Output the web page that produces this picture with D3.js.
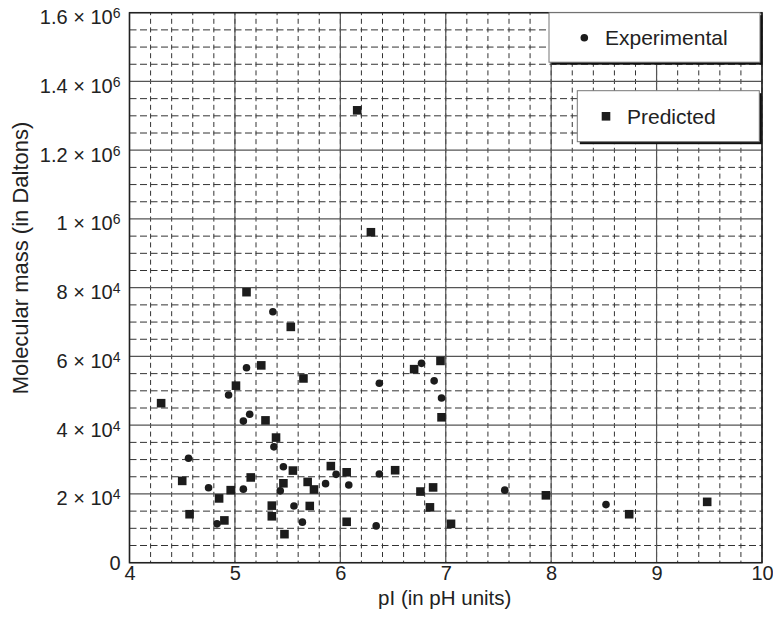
<!DOCTYPE html>
<html>
<head>
<meta charset="utf-8">
<script src="https://cdn.jsdelivr.net/npm/d3@7"></script>
<style>
    body { margin: 0; background: #fff; }
    svg { display: block; font-family: "Liberation Sans", Arial, sans-serif; }
</style>
</head>
<body>
<svg id="chart" width="773" height="625"></svg>
<script>
// Data (pI, molecular mass as labelled on the axis)
var expPI = [4.94, 5.08, 5.14, 4.56, 4.75, 5.08, 4.83, 5.36, 5.11, 5.37, 5.46, 5.43, 5.56,
    5.64, 5.86, 5.96, 6.08, 6.37, 6.77, 6.89, 6.96, 6.37, 6.34, 7.56, 8.52];
var expMass = [48800, 41200, 43200, 30400, 21800, 21400, 11300, 73000, 56700, 33700, 27900, 20900, 16500,
    11800, 23000, 25700, 22600, 52200, 58000, 52900, 47900, 25800, 10700, 21100, 16900];

var predPI = [4.30, 5.01, 4.50, 4.96, 5.15, 4.85, 4.57, 4.90, 5.11, 5.53, 5.25, 5.65, 5.29,
    5.39, 5.35, 5.35, 5.55, 5.46, 5.47, 5.69, 5.75, 5.71, 5.91, 6.06, 6.06, 6.70,
    6.95, 6.96, 6.52, 6.76, 6.88, 6.85, 7.05, 7.95, 8.74, 9.48, 6.16, 6.29];
var predMass = [46400, 51500, 23800, 21100, 24800, 18700, 14100, 12300, 78700, 68600, 57400, 53600, 41400,
    36400, 16600, 13500, 26800, 23100, 8300, 23500, 21300, 16500, 28100, 26300, 11900, 56300,
    58700, 42300, 26900, 20700, 21900, 16100, 11300, 19600, 14100, 17700, 1316000, 822000];

var xTicks = [4, 5, 6, 7, 8, 9, 10];
var yTicks = [0, 20000, 40000, 60000, 80000, 1000000, 1200000, 1400000, 1600000];
var yTickBase = ["0", "2 \u00d7 10", "4 \u00d7 10", "6 \u00d7 10", "8 \u00d7 10", "1 \u00d7 10", "1.2 \u00d7 10", "1.4 \u00d7 10", "1.6 \u00d7 10"];
var yTickExp = ["", "4", "4", "4", "4", "6", "6", "6", "6"];

var seriesNames = ["Experimental", "Predicted"];

// Layout
var margin = { top: 12.7, right: 11, bottom: 62.3, left: 129.5 };
var svg = d3.select("#chart"),
    width = +svg.attr("width") - margin.left - margin.right,
    height = +svg.attr("height") - margin.top - margin.bottom;

var markColor = "#1c1c1c";
var majorColor = "#555";
var minorColor = "#333";
var textColor = "#222";

var g = svg.append("g")
    .attr("transform", "translate(" + margin.left + "," + margin.top + ")");

var x = d3.scaleLinear().domain([4, 10]).range([0, width]);

// the axis is broken: equal steps of 2x10^4 up to 8x10^4, then 10^6 and steps of 0.2x10^6
var step = height / 8;
var y = d3.scaleLinear()
    .domain([0, 80000, 1000000, 1600000])
    .range([height, height - 4 * step, height - 5 * step, 0]);

// minor grid (dashed)
var xMinor = d3.range(4, 10.001, 0.2);
g.selectAll(".vminor")
    .data(xMinor)
    .enter()
    .append("line")
    .attr("class", "vminor")
    .attr("x1", d => x(d)).attr("x2", d => x(d))
    .attr("y1", 0).attr("y2", height)
    .attr("stroke", minorColor)
    .attr("stroke-width", 1)
    .attr("stroke-dasharray", "5,3.6")
    .attr("stroke-dashoffset", 2.5);

var yMinor = [];
for (var i = 0; i < yTicks.length - 1; i++) {
    for (var j = 1; j < 4; j++) {
        yMinor.push(y(yTicks[i]) + j / 4 * (y(yTicks[i + 1]) - y(yTicks[i])));
    }
}
g.selectAll(".hminor")
    .data(yMinor)
    .enter()
    .append("line")
    .attr("class", "hminor")
    .attr("x1", 0).attr("x2", width)
    .attr("y1", d => d).attr("y2", d => d)
    .attr("stroke", minorColor)
    .attr("stroke-width", 1)
    .attr("stroke-dasharray", "7,3.5");

// major grid (solid)
g.selectAll(".vmajor")
    .data(xTicks)
    .enter()
    .append("line")
    .attr("class", "vmajor")
    .attr("x1", d => x(d)).attr("x2", d => x(d))
    .attr("y1", 0).attr("y2", height)
    .attr("stroke", majorColor)
    .attr("stroke-width", 1.2);

g.selectAll(".hmajor")
    .data(yTicks)
    .enter()
    .append("line")
    .attr("class", "hmajor")
    .attr("x1", 0).attr("x2", width)
    .attr("y1", d => y(d)).attr("y2", d => y(d))
    .attr("stroke", majorColor)
    .attr("stroke-width", 1.2);

// frame
g.append("rect")
    .attr("width", width)
    .attr("height", height)
    .attr("fill", "none")
    .attr("stroke", "#222")
    .attr("stroke-width", 1.5);

// x axis labels
var xAxis = g.append("g")
    .attr("transform", "translate(0," + height + ")")
    .call(d3.axisBottom(x).tickValues(xTicks).tickSize(0).tickPadding(3).tickFormat(d3.format("d")));
xAxis.select(".domain").remove();
xAxis.selectAll("text")
    .attr("font-size", "20px")
    .attr("font-family", "Liberation Sans, Arial, sans-serif")
    .attr("fill", textColor);

// y axis labels with superscript exponents
var yLab = g.selectAll(".ylab")
    .data(yTicks)
    .enter()
    .append("text")
    .attr("class", "ylab")
    .attr("x", -9)
    .attr("y", (d, i) => y(d) + (yTickExp[i] ? 11.5 : 7))
    .attr("text-anchor", "end")
    .attr("font-size", "20px")
    .attr("fill", textColor);
yLab.append("tspan")
    .text((d, i) => yTickBase[i]);
yLab.append("tspan")
    .attr("dy", -6)
    .attr("font-size", "14px")
    .text((d, i) => yTickExp[i]);

// axis titles
svg.append("text")
    .attr("x", margin.left + x(7) - 1)
    .attr("y", 605)
    .attr("text-anchor", "middle")
    .attr("font-size", "20.5px")
    .attr("fill", textColor)
    .text("pI (in pH units)");

svg.append("text")
    .attr("transform", "translate(28,258) rotate(-90)")
    .attr("text-anchor", "middle")
    .attr("font-size", "22px")
    .attr("fill", textColor)
    .text("Molecular mass (in Daltons)");

// points
g.selectAll(".exp")
    .data(expPI)
    .enter()
    .append("circle")
    .attr("class", "exp")
    .attr("cx", d => x(d))
    .attr("cy", (d, i) => y(expMass[i]))
    .attr("r", 3.8)
    .attr("fill", markColor);

var sq = 8.6;
g.selectAll(".pred")
    .data(predPI)
    .enter()
    .append("rect")
    .attr("class", "pred")
    .attr("x", d => x(d) - sq / 2)
    .attr("y", (d, i) => y(predMass[i]) - sq / 2)
    .attr("width", sq)
    .attr("height", sq)
    .attr("fill", markColor);

// legend boxes with drop shadows
var legendBoxes = [
    { x: 549, y: 12.7, w: 211, h: 49.5, mx: 584.3, my: 37.7, tx: 605, ty: 45 },
    { x: 577.3, y: 90.7, w: 182, h: 51, mx: 606, my: 116.3, tx: 627, ty: 123.5 }
];

var legend = svg.selectAll(".legend")
    .data(legendBoxes)
    .enter()
    .append("g")
    .attr("class", "legend");

legend.append("rect")
    .attr("x", d => d.x + 2.5)
    .attr("y", d => d.y + 2.5)
    .attr("width", d => d.w)
    .attr("height", d => d.h)
    .attr("fill", "#111");
legend.append("rect")
    .attr("x", d => d.x)
    .attr("y", d => d.y)
    .attr("width", d => d.w)
    .attr("height", d => d.h)
    .attr("fill", "#fff")
    .attr("stroke", "#777")
    .attr("stroke-width", 1);
legend.append("text")
    .attr("x", d => d.tx)
    .attr("y", d => d.ty)
    .attr("font-size", "21px")
    .attr("fill", textColor)
    .text((d, i) => seriesNames[i]);

legend.filter((d, i) => i === 0)
    .append("circle")
    .attr("cx", d => d.mx)
    .attr("cy", d => d.my)
    .attr("r", 3.8)
    .attr("fill", markColor);
legend.filter((d, i) => i === 1)
    .append("rect")
    .attr("x", d => d.mx - sq / 2)
    .attr("y", d => d.my - sq / 2)
    .attr("width", sq)
    .attr("height", sq)
    .attr("fill", markColor);
</script>
</body>
</html>
